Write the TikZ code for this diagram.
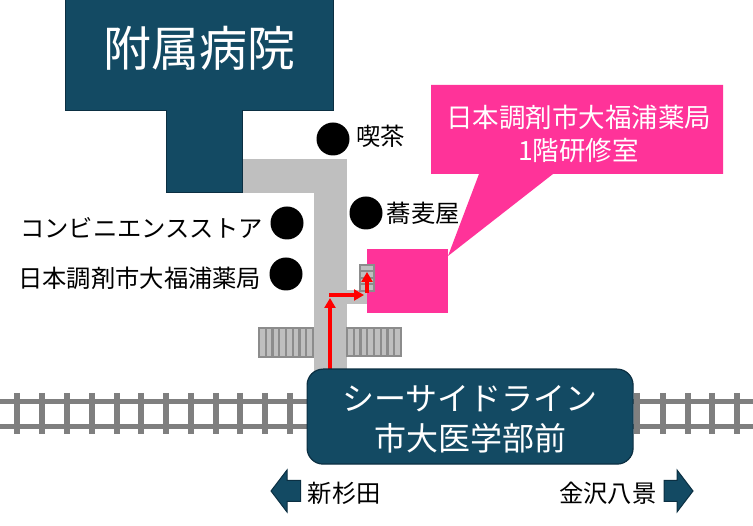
\documentclass[tikz,border=0pt]{standalone}
\usepackage{fontspec}
\setmainfont{Noto Sans CJK JP}
\usetikzlibrary{arrows.meta}
\definecolor{navyc}{HTML}{134A63}
\definecolor{navyd}{HTML}{0B2F42}
\definecolor{roadc}{HTML}{BFBFBF}
\definecolor{railc}{HTML}{7F7F7F}
\definecolor{stripec}{HTML}{8C8C8C}
\definecolor{pinkc}{HTML}{FF3399}
\tikzset{
 navy/.style={fill=navyc,draw=navyd,line width=1.2pt},
 road/.style={fill=roadc,draw=none},
 poi/.style={circle,fill=black,minimum size=33pt,inner sep=0pt},
 lab/.style={text=black,font=\fontsize{24.3}{28}\selectfont,inner sep=0pt},
 railbar/.style={draw=railc,line width=5pt},
 tie/.style={draw=railc,line width=6pt},
 stripe/.style={draw=stripec,line width=2.5pt,fill=roadc},
 redarrow/.style={draw=red,line width=3.2pt,-{Triangle[length=10pt,width=11pt]}},
}
\begin{document}
\begin{tikzpicture}[x=1pt,y=-1pt]
\useasboundingbox (0,0) rectangle (753,526);
% roads
\fill[road] (243,159.5) rectangle (347,193);
\fill[road] (314,159) rectangle (347,372);
\fill[road] (340,290) rectangle (370,304);
% crossings
\foreach \x/\w/\h in {259/54/29,347/54/28}{
 \draw[stripe] (\x,328) rectangle ++(\w,\h);
 \foreach \i in {1,...,7}{\draw[draw=stripec,line width=2.2pt] (\x+\i*\w/8,328) -- (\x+\i*\w/8,328+\h);}
}
% rails
\foreach \a/\b in {0/310,630/753}{
 \draw[railbar] (\a,402) -- (\b,402);
 \draw[railbar] (\a,427) -- (\b,427);
}
\foreach \x in {17,42,67,92,117,141,166,191,216,240,265,290,637,663,688,712,737}{
 \draw[tie] (\x,393) -- (\x,434);
}
% building
\fill[navyc,draw=navyd,line width=1pt] (65.5,-2) -- (333,-2) -- (333,110.5) -- (242.5,110.5) -- (242.5,192.5) -- (166.5,192.5) -- (166.5,110.5) -- (65.5,110.5) -- cycle;
\node[text=white,font=\fontsize{48}{52}\selectfont,inner sep=0pt] (hosp) at (199.5,48) {附属病院};
% pink
\fill[pinkc] (431,85) -- (723,85) -- (723,174) -- (553,174) -- (448,256) -- (479,174) -- (431,174) -- cycle;
\node[fill=pinkc,minimum width=81pt,minimum height=64pt,inner sep=0pt,anchor=north west] (room) at (367,249) {};
\node[text=white,font=\fontsize{26.5}{33}\selectfont,align=center,inner sep=0pt] (roomlabel) at (578.5,134) {日本調剤市大福浦薬局\\1階研修室};
% stairs
\draw[stripe,line width=2pt] (360,265) rectangle (374,291);
\foreach \y in {271.5,278,284.5}{\draw[draw=stripec,line width=2pt] (360,\y) -- (374,\y);}
% arrows
\coordinate (a0) at (330,370);
\coordinate (a1) at (330,298);
\coordinate (a2) at (329,295);
\coordinate (a3) at (364,295);
\coordinate (a4) at (367,293);
\coordinate (a5) at (367,272);
\draw[redarrow] (a0) -- (a1);
\draw[redarrow] (a2) -- (a3);
\draw[redarrow] (a4) -- (a5);
% station
\node[navy,rounded corners=16pt,anchor=north west,minimum width=326pt,minimum height=95pt,inner sep=0pt] (stn) at (306.5,368.5) {};
\node[text=white,font=\fontsize{32}{40}\selectfont,align=center,inner sep=0pt] (stnlabel) at (470,419) {シーサイドライン\\市大医学部前};
% POIs
\node[poi] (p1) at (333,139) {};
\node[lab,anchor=west] (t1) at (356,136) {喫茶};
\node[poi] (p2) at (366,213) {};
\node[lab,anchor=west] (t2) at (386.5,213) {蕎麦屋};
\node[poi] (p3) at (287,223) {};
\node[lab,anchor=east] (t3) at (263,228) {コンビニエンスストア};
\node[poi] (p4) at (286,274) {};
\node[lab,anchor=east] (t4) at (261.5,278) {日本調剤市大福浦薬局};
% direction arrows
\fill[navyc,draw=navyd,line width=1pt] (271,491) -- (287,470) -- (287,480.5) -- (300.5,480.5) -- (300.5,501.5) -- (287,501.5) -- (287,512) -- cycle;
\node[lab,anchor=west] (t5) at (307.5,493) {新杉田};
\fill[navyc,draw=navyd,line width=1pt] (693,491) -- (677,470) -- (677,480.5) -- (664,480.5) -- (664,501.5) -- (677,501.5) -- (677,512) -- cycle;
\node[lab,anchor=east] (t6) at (656.5,493) {金沢八景};
\end{tikzpicture}
\end{document}
